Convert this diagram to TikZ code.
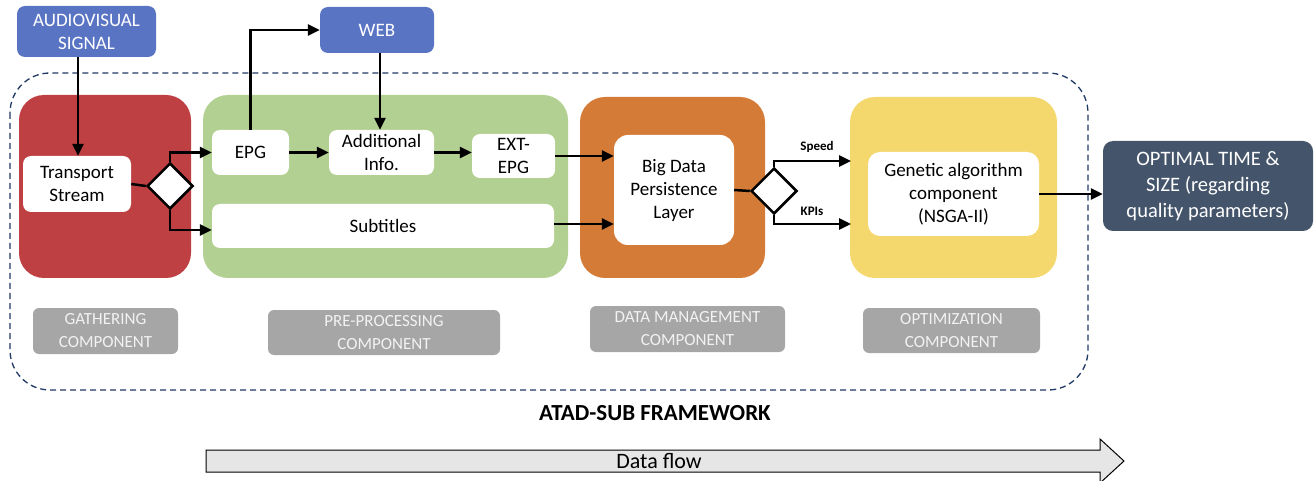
\documentclass[tikz,border=0pt]{standalone}
\usepackage{fontspec}
\setmainfont{Carlito}
\usetikzlibrary{arrows.meta,shapes.geometric}

\definecolor{extblue}{RGB}{90,116,196}
\definecolor{gathred}{RGB}{190,64,66}
\definecolor{prepgreen}{RGB}{179,208,147}
\definecolor{dmanorange}{RGB}{213,123,56}
\definecolor{optyellow}{RGB}{244,216,110}
\definecolor{resultgray}{RGB}{68,84,106}
\definecolor{labelgray}{RGB}{166,166,166}
\definecolor{framenavy}{RGB}{31,56,100}
\definecolor{flowgray}{RGB}{231,230,230}

\tikzset{
  txt/.style={font=\fontsize{19}{23}\selectfont, align=center, inner sep=0pt},
  extbox/.style={txt, fill=extblue, text=white, rounded corners=8pt},
  compbox/.style={inner sep=0pt, rounded corners=25pt},
  whitebox/.style={txt, fill=white, rounded corners=8pt},
  labelbox/.style={txt, fill=labelgray, text=white!95!black, rounded corners=6pt,
    font=\fontsize{17}{23}\selectfont},
  choice/.style={diamond, draw, line width=2.5pt, fill=white, inner sep=0pt,
    minimum width=46pt, minimum height=46pt},
  arr/.style={line width=2.5pt, -{Triangle[length=12pt,width=11pt]}},
  link/.style={line width=2.5pt},
  tag/.style={font=\fontsize{13}{15}\selectfont\bfseries, inner sep=0pt}
}

\begin{document}
\begin{tikzpicture}[x=1pt,y=-1pt]
  \useasboundingbox (0,0) rectangle (1315,481);

  % framework outline
  \draw[framenavy, dash pattern=on 6pt off 4pt, line width=1.3pt, rounded corners=40pt] (10,73) rectangle (1088,390);

  % components
  \node[compbox, fill=gathred, minimum width=172pt, minimum height=183pt] (gath) at (105,186.5) {};
  \node[compbox, fill=prepgreen, minimum width=365pt, minimum height=183pt] (prep) at (385.5,186.5) {};
  \node[compbox, fill=dmanorange, minimum width=185pt, minimum height=181pt] (dman) at (672.5,187.5) {};
  \node[compbox, fill=optyellow, minimum width=207pt, minimum height=181pt] (opt) at (953.5,187.5) {};

  % outside sources and result
  \node[extbox, minimum width=139pt, minimum height=51pt] (av) at (86.5,31.5) {AUDIOVISUAL\\SIGNAL};
  \node[extbox, minimum width=114pt, minimum height=46pt] (web) at (377,30) {WEB};
  \node[txt, fill=resultgray, text=white, rounded corners=10pt, minimum width=210pt, minimum height=90pt,
    font=\fontsize{20.5}{26}\selectfont] (result) at (1208,186) {OPTIMAL TIME \&\\SIZE (regarding\\quality parameters)};

  % inner blocks
  \node[whitebox, minimum width=108pt, minimum height=56pt] (ts) at (77,184) {Transport\\Stream};
  \node[choice] (split) at (170,186) {};
  \node[whitebox, minimum width=77pt, minimum height=45pt] (epg) at (250.5,152.5) {EPG};
  \node[whitebox, minimum width=105pt, minimum height=45pt] (addinfo) at (381.5,152.5) {Additional\\Info.};
  \node[whitebox, minimum width=83pt, minimum height=44pt] (extepg) at (513.5,156) {EXT-\\EPG};
  \node[whitebox, minimum width=342pt, minimum height=44pt] (subt) at (383,226) {Subtitles};
  \node[whitebox, rounded corners=14pt, minimum width=120pt, minimum height=110pt] (bigdata) at (674,190) {Big Data\\Persistence\\Layer};
  \node[choice] (select) at (774,191) {};
  \node[whitebox, rounded corners=12pt, minimum width=171pt, minimum height=84pt] (gen) at (953.5,194) {Genetic algorithm\\component\\(NSGA-II)};

  % component labels
  \node[labelbox, minimum width=145pt, minimum height=46pt] (lgath) at (105.5,331) {GATHERING\\COMPONENT};
  \node[labelbox, minimum width=232pt, minimum height=45pt] (lprep) at (384,332.5) {PRE-PROCESSING\\COMPONENT};
  \node[labelbox, minimum width=195pt, minimum height=46pt] (ldman) at (687.5,329) {DATA MANAGEMENT\\COMPONENT};
  \node[labelbox, minimum width=177pt, minimum height=45pt] (lopt) at (951.5,330.5) {OPTIMIZATION\\COMPONENT};

  \node[font=\fontsize{23}{27}\selectfont\bfseries] (title) at (655,413) {ATAD-SUB FRAMEWORK};

  % connectors
  \coordinate (speedin) at (851,161);
  \coordinate (kpisin) at (851,224);
  \draw[arr] (av.south -| 78,0) -- (ts.north -| 78,0);
  \draw[link] (ts.east) -- (split.west);
  \draw[arr] (split.north) |- (epg.west);
  \draw[arr] (split.south) |- (subt.west |- 0,230);
  \draw[arr] (epg.north) |- (web.west);
  \draw[arr] (web.south -| 380,0) -- (addinfo.north -| 380,0);
  \draw[arr] (epg.east) -- (addinfo.west);
  \draw[arr] (addinfo.east) -- (addinfo.east -| extepg.west);
  \draw[arr] (extepg.east) -- (extepg.east -| bigdata.west);
  \draw[arr] (subt.east |- 0,224) -- (bigdata.west |- 0,224);
  \draw[link] (bigdata.east) -- (select.west);
  \draw[arr] (select.north) |- (speedin);
  \draw[arr] (select.south) |- (kpisin);
  \draw[arr] (gen.east) -- (result.west |- gen.east);
  \node[tag] (speed) at (817,147) {Speed};
  \node[tag] (kpis) at (812,211) {KPIs};

  % data flow arrow
  \draw[fill=flowgray, line width=1pt] (206,450) -- (1100,450) -- (1100,439) -- (1124,461)
    -- (1100,483) -- (1100,472) -- (206,472) -- cycle;
  \node[font=\fontsize{22}{26}\selectfont] (flow) at (659,461) {Data flow};
\end{tikzpicture}
\end{document}
